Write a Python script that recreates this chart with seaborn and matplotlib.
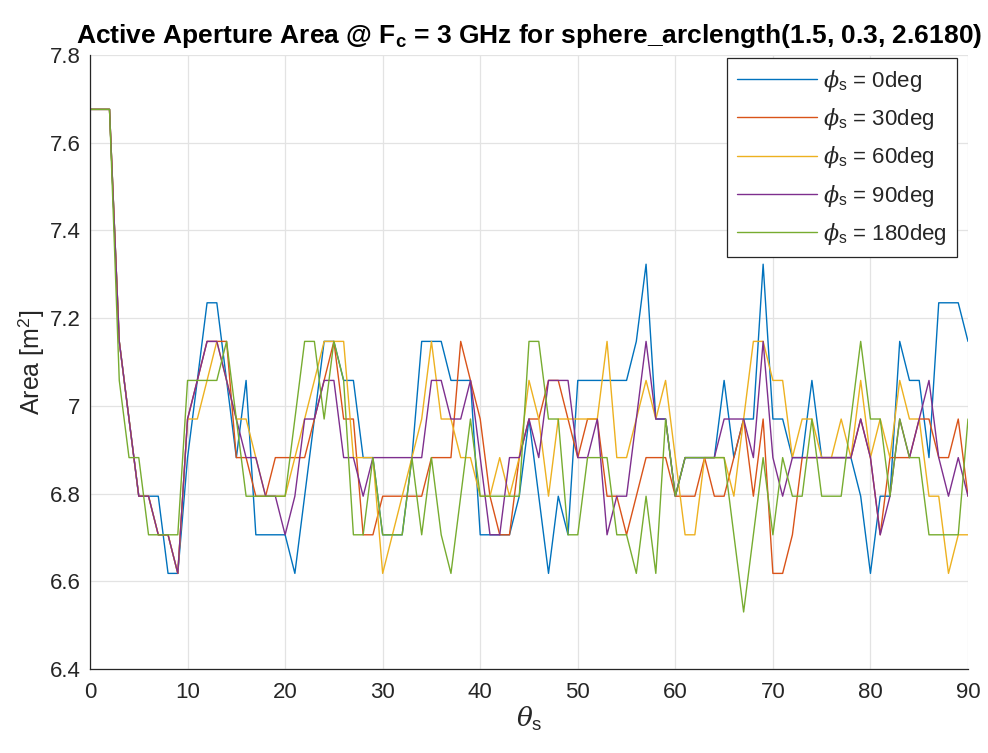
import numpy as np
import pandas as pd
import matplotlib
matplotlib.use("Agg")
import matplotlib.pyplot as plt
import seaborn as sns

# Scan angle theta_s in degrees (1-degree steps)
theta_s = list(range(0, 91))

# Active aperture area [m^2] for each phi_s cut
area_phi0 = [7.676, 7.676, 7.676, 7.147, 6.970, 6.794, 6.794, 6.794, 6.618, 6.618,
             6.882, 7.058, 7.235, 7.235, 7.058, 6.882, 7.058, 6.706, 6.706, 6.706,
             6.706, 6.618, 6.794, 6.970, 7.147, 7.147, 7.058, 7.058, 6.882, 6.882,
             6.706, 6.706, 6.706, 6.882, 7.147, 7.147, 7.147, 7.058, 7.058, 7.058,
             6.706, 6.706, 6.706, 6.706, 6.794, 6.970, 6.794, 6.618, 6.794, 6.706,
             7.058, 7.058, 7.058, 7.058, 7.058, 7.058, 7.147, 7.323, 6.970, 6.970,
             6.794, 6.882, 6.882, 6.882, 6.882, 7.058, 6.882, 6.970, 6.970, 7.323,
             6.970, 6.970, 6.882, 6.882, 7.058, 6.882, 6.882, 6.882, 6.882, 6.794,
             6.618, 6.794, 6.794, 7.147, 7.058, 7.058, 6.882, 7.235, 7.235, 7.235,
             7.147]

area_phi30 = [7.676, 7.676, 7.676, 7.147, 6.970, 6.794, 6.794, 6.706, 6.706, 6.618,
              6.970, 7.058, 7.147, 7.147, 7.147, 6.882, 6.882, 6.794, 6.794, 6.882,
              6.882, 6.882, 6.882, 6.970, 7.058, 7.147, 6.970, 6.970, 6.706, 6.706,
              6.794, 6.794, 6.794, 6.794, 6.794, 6.882, 6.882, 6.882, 7.147, 7.058,
              6.970, 6.794, 6.706, 6.706, 6.882, 6.970, 6.970, 7.058, 7.058, 6.970,
              6.882, 6.970, 6.970, 6.794, 6.794, 6.706, 6.794, 6.882, 6.882, 6.882,
              6.794, 6.794, 6.794, 6.882, 6.794, 6.794, 6.882, 6.970, 6.794, 6.970,
              6.618, 6.618, 6.706, 6.882, 6.882, 6.882, 6.882, 6.882, 6.882, 6.970,
              6.882, 6.706, 6.882, 6.882, 6.882, 6.970, 6.970, 6.882, 6.882, 6.970,
              6.794]

area_phi60 = [7.676, 7.676, 7.676, 7.147, 6.970, 6.794, 6.794, 6.706, 6.706, 6.618,
              6.970, 6.970, 7.058, 7.147, 7.058, 6.970, 6.970, 6.882, 6.794, 6.794,
              6.794, 6.882, 6.970, 7.058, 7.147, 7.147, 7.147, 6.882, 6.882, 6.882,
              6.618, 6.706, 6.794, 6.882, 6.970, 7.147, 6.970, 6.970, 6.882, 6.882,
              6.794, 6.794, 6.882, 6.794, 6.882, 7.058, 6.970, 6.794, 6.970, 6.970,
              6.970, 6.970, 6.970, 7.147, 6.882, 6.882, 6.970, 7.058, 6.970, 7.058,
              6.882, 6.706, 6.706, 6.882, 6.882, 6.882, 6.794, 6.970, 7.147, 7.147,
              7.058, 7.058, 6.882, 6.970, 6.970, 6.882, 6.882, 6.970, 6.882, 7.058,
              6.882, 6.970, 6.882, 7.058, 6.970, 6.970, 6.794, 6.794, 6.618, 6.706,
              6.706]

area_phi90 = [7.676, 7.676, 7.676, 7.147, 6.970, 6.794, 6.794, 6.706, 6.706, 6.618,
              6.970, 7.058, 7.147, 7.147, 7.058, 6.970, 6.882, 6.882, 6.794, 6.794,
              6.706, 6.794, 6.970, 6.970, 7.058, 7.058, 6.882, 6.882, 6.794, 6.882,
              6.882, 6.882, 6.882, 6.882, 6.882, 7.058, 7.058, 6.970, 6.970, 7.058,
              6.882, 6.706, 6.706, 6.882, 6.882, 6.970, 6.882, 7.058, 7.058, 7.058,
              6.882, 6.882, 6.970, 6.706, 6.794, 6.794, 6.970, 7.147, 6.970, 6.970,
              6.794, 6.882, 6.882, 6.882, 6.882, 6.970, 6.970, 6.970, 6.882, 7.147,
              6.882, 6.794, 6.882, 6.882, 6.882, 6.882, 6.882, 6.882, 6.882, 6.970,
              6.882, 6.706, 6.794, 6.970, 6.882, 6.970, 7.058, 6.882, 6.794, 6.882,
              6.794]

area_phi180 = [7.676, 7.676, 7.676, 7.058, 6.882, 6.882, 6.706, 6.706, 6.706, 6.706,
               7.058, 7.058, 7.058, 7.058, 7.147, 6.970, 6.794, 6.794, 6.794, 6.794,
               6.794, 6.970, 7.147, 7.147, 6.970, 7.147, 7.058, 6.706, 6.706, 6.882,
               6.706, 6.706, 6.706, 6.882, 6.706, 6.882, 6.706, 6.618, 6.794, 6.970,
               6.794, 6.794, 6.794, 6.794, 6.794, 7.147, 7.147, 6.970, 6.970, 6.706,
               6.706, 6.882, 6.882, 6.882, 6.706, 6.706, 6.618, 6.794, 6.618, 6.970,
               6.794, 6.882, 6.882, 6.882, 6.882, 6.882, 6.706, 6.530, 6.706, 6.882,
               6.706, 6.882, 6.794, 6.794, 6.970, 6.794, 6.794, 6.794, 6.970, 7.147,
               6.970, 6.970, 6.794, 6.970, 6.882, 6.882, 6.706, 6.706, 6.706, 6.706,
               6.970]

series_labels = [r"$\phi_\mathrm{s}$ = 0deg", r"$\phi_\mathrm{s}$ = 30deg",
                 r"$\phi_\mathrm{s}$ = 60deg", r"$\phi_\mathrm{s}$ = 90deg",
                 r"$\phi_\mathrm{s}$ = 180deg"]
series_colors = ["#0072BD", "#D95319", "#EDB120", "#7E2F8E", "#77AC30"]

x_ticks = [0, 10, 20, 30, 40, 50, 60, 70, 80, 90]
y_ticks = [6.4, 6.6, 6.8, 7.0, 7.2, 7.4, 7.6, 7.8]
y_tick_labels = ["6.4", "6.6", "6.8", "7", "7.2", "7.4", "7.6", "7.8"]

all_series = [area_phi0, area_phi30, area_phi60, area_phi90, area_phi180]
df = pd.concat(
    [pd.DataFrame({"theta": theta_s, "area": vals, "phi": lab})
     for vals, lab in zip(all_series, series_labels)],
    ignore_index=True,
)

sns.set_theme(style="white")
plt.rcParams["font.family"] = ["Liberation Sans", "DejaVu Sans"]
plt.rcParams["mathtext.fontset"] = "custom"
plt.rcParams["mathtext.rm"] = "Liberation Sans"
plt.rcParams["mathtext.sf"] = "Liberation Sans"
plt.rcParams["mathtext.it"] = "DejaVu Serif:italic"
plt.rcParams["mathtext.bf"] = "Liberation Sans:bold"

dark = "#262626"

fig = plt.figure(figsize=(9.88, 7.53), dpi=100)
ax = fig.add_axes([90 / 988, 1 - 669 / 753, 878 / 988, 614 / 753])

sns.lineplot(data=df, x="theta", y="area", hue="phi", hue_order=series_labels,
             palette=series_colors, linewidth=1.0, ax=ax, legend=True)

ax.set_xlim(0, 90)
ax.set_ylim(6.4, 7.8)
ax.set_xticks(x_ticks)
ax.set_xticklabels([str(t) for t in x_ticks])
ax.set_yticks(y_ticks)
ax.set_yticklabels(y_tick_labels)

ax.set_axisbelow(True)
ax.grid(True, color="#e3e3e3", linewidth=0.9)
for side in ("top", "right"):
    ax.spines[side].set_visible(False)
for side in ("left", "bottom"):
    ax.spines[side].set_color(dark)
    ax.spines[side].set_linewidth(0.9)

ax.tick_params(axis="both", direction="in", length=6.5, width=0.9, color=dark,
               labelsize=16, labelcolor=dark)
ax.tick_params(axis="y", pad=7)
ax.tick_params(axis="x", pad=9)

ax.set_xlabel(r"$\theta_\mathrm{s}$", fontsize=19, color=dark, labelpad=2)
ax.set_ylabel(r"Area [m$^2$]", fontsize=18, color=dark, labelpad=2)
ax.set_title(r"Active Aperture Area @ F$_\mathbf{c}$ = 3 GHz for sphere_arclength(1.5, 0.3, 2.6180)",
             fontsize=19, fontweight="bold", color="black", pad=9)

handles, labels = ax.get_legend_handles_labels()
leg = ax.legend(handles, labels, loc="upper right",
                bbox_to_anchor=(957 / 988, 1 - 58 / 753), bbox_transform=fig.transFigure,
                borderaxespad=0, fontsize=16, frameon=True, fancybox=False,
                edgecolor=dark, framealpha=1, handlelength=3.6, handletextpad=0.3,
                labelspacing=0.55, borderpad=0.45)
leg.get_frame().set_linewidth(0.9)
for line in leg.get_lines():
    line.set_linewidth(1.0)

fig.savefig("out.png", dpi=100)
